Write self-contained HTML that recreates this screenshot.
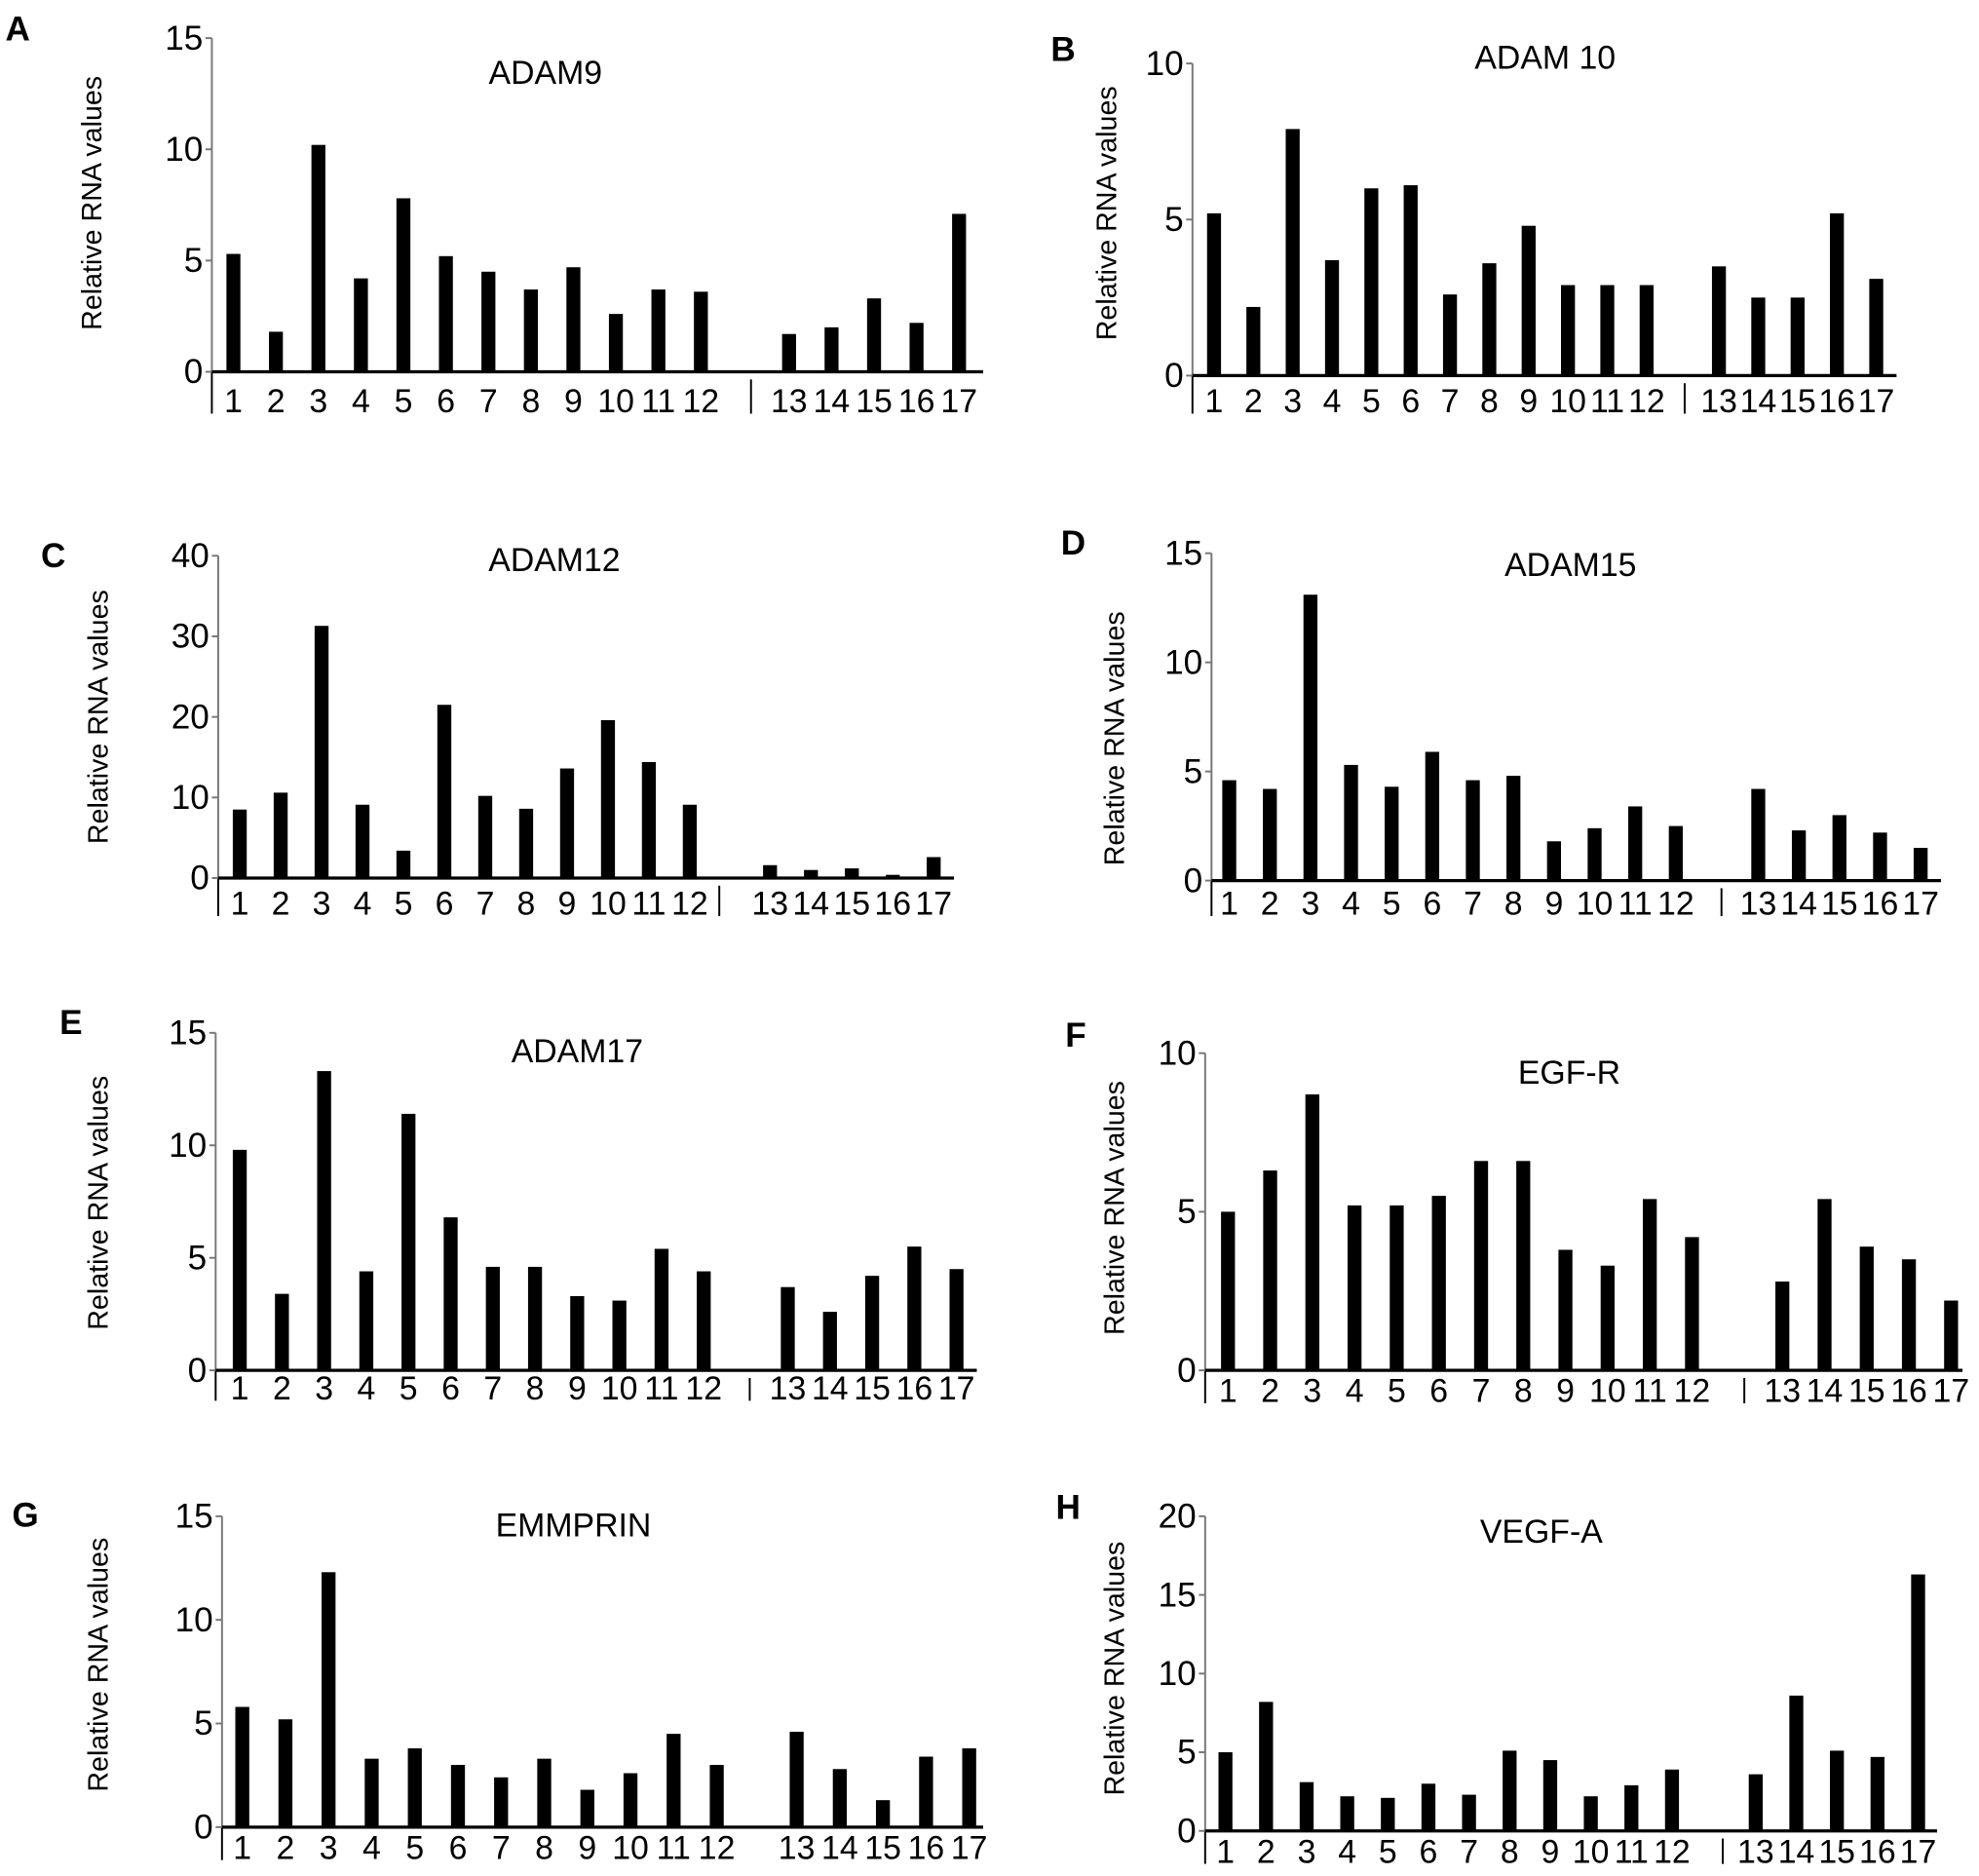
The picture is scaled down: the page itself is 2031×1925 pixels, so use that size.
<!DOCTYPE html>
<html><head><meta charset="utf-8"><style>
html,body{margin:0;padding:0;background:#fff;}
svg{display:block;}
text{font-family:"Liberation Sans Narrow","Liberation Sans",sans-serif;fill:#000;}
</style></head><body>
<svg id="fig" width="2031" height="1925" viewBox="0 0 1560 1478.5" xmlns="http://www.w3.org/2000/svg"></svg>
<script>
const categories = ["1","2","3","4","5","6","7","8","9","10","11","12","13","14","15","16","17"];
const adam9Values   = [5.3,1.8,10.2,4.2,7.8,5.2,4.5,3.7,4.7,2.6,3.7,3.6,1.7,2.0,3.3,2.2,7.1];
const adam10Values  = [5.2,2.2,7.9,3.7,6.0,6.1,2.6,3.6,4.8,2.9,2.9,2.9,3.5,2.5,2.5,5.2,3.1];
const adam12Values  = [8.5,10.6,31.3,9.1,3.4,21.5,10.2,8.6,13.6,19.6,14.4,9.1,1.6,1.0,1.2,0.4,2.6];
const adam15Values  = [4.6,4.2,13.1,5.3,4.3,5.9,4.6,4.8,1.8,2.4,3.4,2.5,4.2,2.3,3.0,2.2,1.5];
const adam17Values  = [9.8,3.4,13.3,4.4,11.4,6.8,4.6,4.6,3.3,3.1,5.4,4.4,3.7,2.6,4.2,5.5,4.5];
const egfrValues    = [5.0,6.3,8.7,5.2,5.2,5.5,6.6,6.6,3.8,3.3,5.4,4.2,2.8,5.4,3.9,3.5,2.2];
const emmprinValues = [5.8,5.2,12.3,3.3,3.8,3.0,2.4,3.3,1.8,2.6,4.5,3.0,4.6,2.8,1.3,3.4,3.8];
const vegfaValues   = [5.0,8.2,3.1,2.2,2.1,3.0,2.3,5.1,4.5,2.2,2.9,3.9,3.6,8.6,5.1,4.7,16.3];
const ticks15 = [0,5,10,15];
const ticks10 = [0,5,10];
const ticks40 = [0,10,20,30,40];
const ticks20 = [0,5,10,15,20];

const panels = [
 {id:"a",letter:"A",title:"ADAM9",vals:adam9Values,ticks:ticks15,ax:167,top:30,base:293,end:775,b1:184,b13:622,b17:756,sep:592,lx:14,ly:22,tx:430,ty:57,yx:72,yy:160,laby:316},
 {id:"b",letter:"B",title:"ADAM  10",vals:adam10Values,ticks:ticks10,ax:940,top:50,base:296,end:1495,b1:957,b13:1355,b17:1479,sep:1328,lx:838,ly:38,tx:1218,ty:45,yx:872,yy:168,laby:316},
 {id:"c",letter:"C",title:"ADAM12",vals:adam12Values,ticks:ticks40,ax:172,top:438,base:692,end:752,b1:189,b13:607,b17:736,sep:567,lx:42,ly:437,tx:437,ty:441,yx:77,yy:565,laby:712},
 {id:"d",letter:"D",title:"ADAM15",vals:adam15Values,ticks:ticks15,ax:955,top:436,base:694,end:1530,b1:969,b13:1386,b17:1514,sep:1357,lx:846,ly:427,tx:1238,ty:445,yx:878,yy:582,laby:712},
 {id:"e",letter:"E",title:"ADAM17",vals:adam17Values,ticks:ticks15,ax:170,top:814,base:1080,end:770,b1:189,b13:621,b17:754,sep:591,lx:56,ly:805,tx:455,ty:828,yx:77,yy:948,laby:1094},
 {id:"f",letter:"F",title:"EGF-R",vals:egfrValues,ticks:ticks10,ax:950,top:830,base:1080,end:1547,b1:968,b13:1405,b17:1538,sep:1375,lx:848,ly:815,tx:1237,ty:845,yx:878,yy:952,laby:1096},
 {id:"g",letter:"G",title:"EMMPRIN",vals:emmprinValues,ticks:ticks15,ax:175,top:1195,base:1440,end:775,b1:191,b13:628,b17:764,sep:null,lx:20,ly:1193,tx:452,ty:1202,yx:77,yy:1312,laby:1456},
 {id:"h",letter:"H",title:"VEGF-A",vals:vegfaValues,ticks:ticks20,ax:950,top:1195,base:1443,end:1527,b1:966,b13:1384,b17:1512,sep:1358,lx:842,ly:1187,tx:1215,ty:1207,yx:878,yy:1315,laby:1459}
];

const NS="http://www.w3.org/2000/svg";
const svg=document.getElementById("fig");
function mk(tag,attrs,parent){const e=document.createElementNS(NS,tag);for(const k in attrs)e.setAttribute(k,attrs[k]);(parent||svg).appendChild(e);return e;}

panels.forEach(p=>{
  const g=mk("g",{});
  
  
  const maxV=p.ticks[p.ticks.length-1];
  const y=v=>p.base-(v/maxV)*(p.base-p.top);
  const s=(p.b17-p.b13)/4;
  const x=i=>i<12?p.b1+i*s:p.b13+(i-12)*s;

  const L=mk("text",{x:p.lx,y:p.ly+10,"font-size":27,"font-weight":"bold","text-anchor":"middle","font-family":"Liberation Sans, sans-serif"},g);
  L.textContent=p.letter;
  
  

  const T=mk("text",{x:p.tx,y:p.ty+9,"font-size":26,"text-anchor":"middle"},g);
  T.textContent=p.title;
  
  

  const Y=mk("text",{x:0,y:0,"font-size":22,"text-anchor":"middle",transform:`translate(${p.yx+8},${p.yy}) rotate(-90)`,fill:"#222","font-family":"Liberation Sans, sans-serif"},g);
  Y.textContent="Relative RNA values";
  
  

  const ya=mk("line",{x1:p.ax,y1:p.top,x2:p.ax,y2:p.base,stroke:"#777","stroke-width":1.5},g);
  
  
  const br=mk("line",{x1:p.ax,y1:p.base,x2:p.ax,y2:p.laby+10,stroke:"#000","stroke-width":1.5},g);
  
  

  p.ticks.forEach(t=>{
    const tl=mk("line",{x1:p.ax-5,y1:y(t),x2:p.ax,y2:y(t),stroke:"#777","stroke-width":1.5},g);
    
    
    const tt=mk("text",{x:p.ax-7,y:y(t)+9,"font-size":27,"text-anchor":"end"},g);
    tt.textContent=t;
    
    
  });

  p.vals.forEach((v,i)=>{
    const r=mk("rect",{x:x(i)-5.5,y:y(v),width:11,height:p.base-y(v),fill:"#000"},g);
    
    
    const lt=mk("text",{x:x(i),y:p.laby+9,"font-size":26,"text-anchor":"middle"},g);
    lt.textContent=categories[i];
    
    
  });

  const xa=mk("line",{x1:p.ax,y1:p.base,x2:p.end,y2:p.base,stroke:"#000","stroke-width":2.5},g);
  
  

  if(p.sep!==null){
    const sp=mk("line",{x1:p.sep,y1:p.base+6,x2:p.sep,y2:p.laby+10,stroke:"#000","stroke-width":1.5},g);
    
    
  }
});
</script>
</body></html>
